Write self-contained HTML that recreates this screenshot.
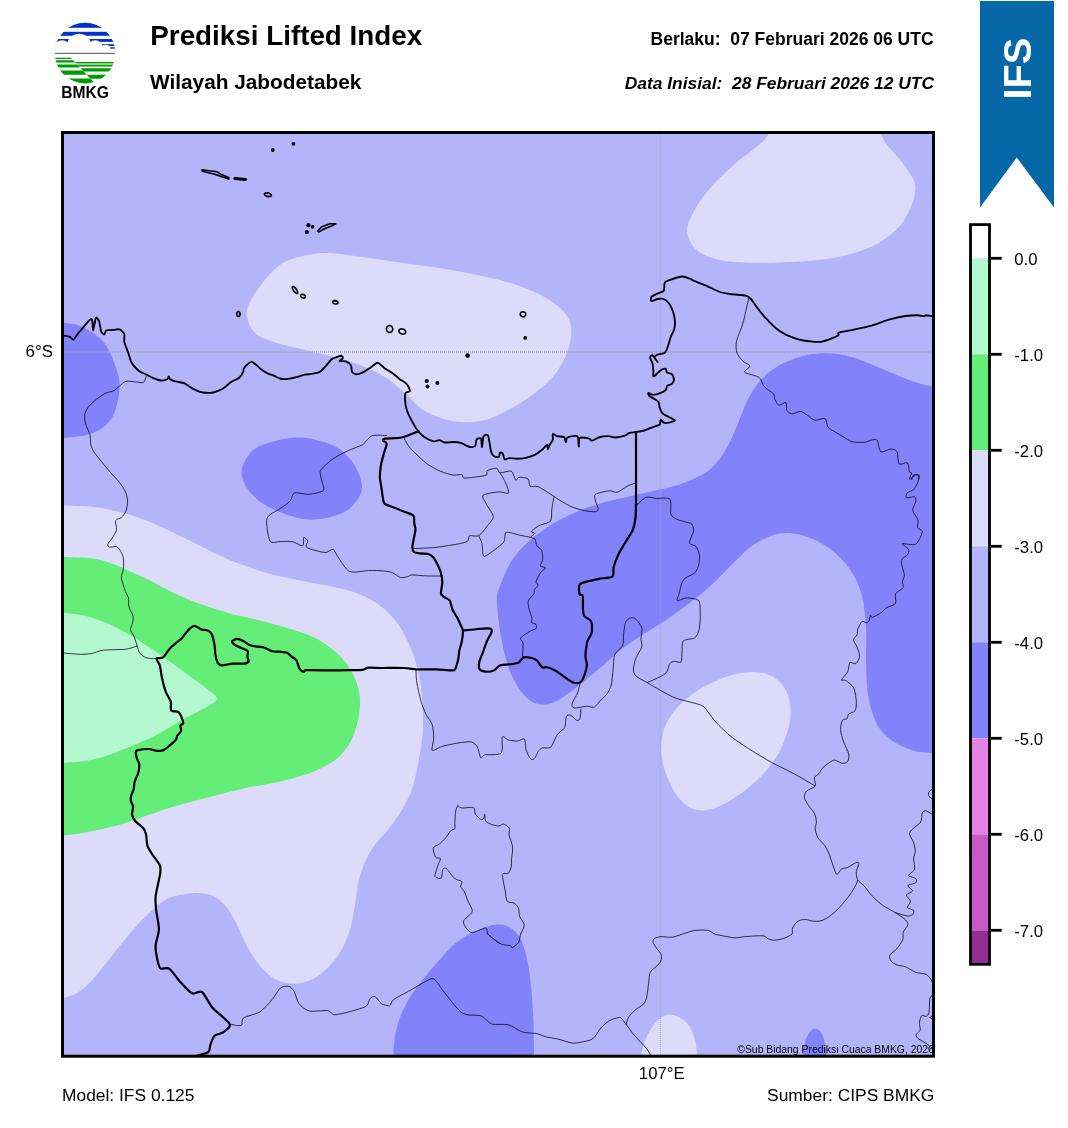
<!DOCTYPE html>
<html><head><meta charset="utf-8"><title>Prediksi Lifted Index</title>
<style>
html,body{margin:0;padding:0;background:#fff;}
body{width:1068px;height:1128px;overflow:hidden;position:relative;font-family:"Liberation Sans",sans-serif;}
svg{position:absolute;left:0;top:0;}
text{font-family:"Liberation Sans",sans-serif;fill:#000;}
</style></head><body>
<svg width="1068" height="1128" viewBox="0 0 1068 1128">
<defs><clipPath id="mapclip"><rect x="62.5" y="132.5" width="871" height="923.5"/></clipPath>
<clipPath id="logoclip"><circle cx="85.05" cy="53.1" r="30.3"/></clipPath></defs>
<!-- header text -->
<text x="150.3" y="45" font-size="27.8" font-weight="bold">Prediksi Lifted Index</text>
<text x="150" y="88.7" font-size="20.8" font-weight="bold">Wilayah Jabodetabek</text>
<text x="933.6" y="45.2" font-size="17.5" font-weight="bold" text-anchor="end" style="white-space:pre">Berlaku:  07 Februari 2026 06 UTC</text>
<text x="934" y="89" font-size="17.4" font-weight="bold" font-style="italic" text-anchor="end" style="white-space:pre">Data Inisial:  28 Februari 2026 12 UTC</text>
<!-- logo -->
<g id="logo">
<g clip-path="url(#logoclip)">
<g fill="#0033cc">
<rect x="50" y="20" width="70" height="7.8"/>
<rect x="50" y="31.8" width="70" height="4"/>
<rect x="50" y="39" width="70" height="2.9"/>
<rect x="50" y="44.2" width="70" height="1.8"/>
<rect x="50" y="47.2" width="70" height="1.6"/>
</g>
<g fill="#fff">
<circle cx="79.2" cy="45.9" r="12.2"/>
<circle cx="62.1" cy="47.7" r="7.5"/>
<circle cx="95.2" cy="47.7" r="7.4"/>
<circle cx="105.7" cy="49.5" r="4.8"/>
<rect x="50" y="48.8" width="70" height="8"/>
</g>
<rect x="50" y="42.3" width="9" height="7" fill="#fff"/>
<rect x="50" y="52.8" width="70" height="1.2" fill="#6e6e6e"/>
<g fill="#009900">
<path d="M50,57.7H70.7L72,59H50Z"/>
<path d="M50,60.3H73.2L75.1,62.4H50Z"/>
<path d="M50,64.4H77L79.9,67.5H50Z"/>
<path d="M50,70.4H82.7L86.7,74.7H50Z"/>
<path d="M50,78.6H90.4L96,84.5H50Z"/>
<path d="M74.7,61.9H120V63.1H75.8Z"/>
<path d="M77.3,64.7H120V66.6H79.1Z"/>
<path d="M80.7,68.3H120V71.6H83.8Z"/>
<path d="M86.7,74.7H120V78.8H90.6Z"/>
</g>
<path d="M75.8,63.1H120V64.7H77.3Z" fill="#8ccc8c"/>

</g>
<text x="85.2" y="97.8" font-size="15.6" font-weight="bold" text-anchor="middle">BMKG</text>
</g>
<!-- banner -->
<path d="M980,1 H1054 V207.5 L1016.7,157.5 L980,207.5 Z" fill="#0667a7"/>
<text transform="translate(1031.2,68.7) rotate(-90)" font-size="39.7" font-weight="bold" text-anchor="middle" style="fill:#fff">IFS</text>
<!-- map -->
<g clip-path="url(#mapclip)">
<rect x="61" y="131" width="874" height="927" fill="#b4b4fa"/>
<path d="M772.0,118.0C753.8,120.6 770.9,129.3 768.6,133.8C766.4,138.3 764.4,139.9 758.5,145.2C752.6,150.5 741.6,157.8 733.2,165.4C724.8,173.0 714.6,182.7 707.9,190.7C701.2,198.7 696.2,206.7 692.8,213.4C689.3,220.1 686.8,225.2 687.2,231.1C687.6,237.0 690.6,244.2 695.3,248.8C700.0,253.4 707.1,256.6 715.5,258.9C723.9,261.2 733.2,261.9 745.8,262.4C758.4,262.9 776.5,262.8 791.3,262.0C806.0,261.2 820.8,260.3 834.3,257.7C847.8,255.1 861.7,251.2 872.2,246.3C882.7,241.5 891.2,234.9 897.5,228.6C903.8,222.3 907.1,214.7 910.1,208.4C913.1,202.1 914.8,195.8 915.2,190.7C915.6,185.6 914.8,182.6 912.7,178.0C910.6,173.4 906.8,168.4 902.6,162.9C898.4,157.4 891.0,150.0 887.4,145.2C883.8,140.3 882.6,138.3 881.0,133.8C879.4,129.3 896.2,120.6 878.0,118.0C859.8,115.4 790.2,115.4 772.0,118.0Z" fill="#dcdcfa"/>
<path d="M246.8,311.4C247.5,304.2 252.7,296.6 258.0,289.0C263.3,281.4 271.7,271.3 278.5,266.0C285.3,260.7 290.8,259.2 299.0,257.0C307.2,254.8 316.3,252.8 328.0,253.0C339.7,253.2 355.2,256.2 369.0,258.0C382.8,259.8 396.7,262.0 410.5,264.0C424.3,266.0 437.6,267.5 451.7,270.0C465.8,272.5 483.7,276.3 495.0,279.0C506.3,281.7 511.5,283.0 519.7,286.0C528.0,289.0 537.3,292.8 544.5,297.0C551.7,301.2 558.5,305.8 563.0,311.0C567.5,316.2 570.6,321.1 571.3,328.0C572.0,334.9 570.1,344.5 567.0,352.7C563.9,360.9 559.2,369.4 552.7,377.0C546.2,384.6 537.6,391.4 528.0,398.0C518.4,404.6 504.3,412.6 495.0,416.6C485.7,420.6 479.9,421.4 472.0,422.0C464.1,422.6 455.8,422.0 447.6,420.0C439.4,418.0 429.9,414.3 423.0,410.0C416.1,405.7 412.9,399.8 406.0,394.0C399.1,388.2 391.2,380.5 381.6,375.0C372.0,369.5 361.0,365.1 348.6,361.0C336.2,356.9 319.4,353.8 307.0,350.6C294.6,347.4 282.8,345.1 274.0,342.0C265.2,338.9 258.5,337.1 254.0,332.0C249.5,326.9 246.1,318.6 246.8,311.4Z" fill="#dcdcfa"/>
<path d="M20.0,505.0C27.3,422.1 50.5,505.1 64.0,505.6C77.5,506.1 87.9,505.8 101.0,508.0C114.1,510.2 128.7,514.0 142.5,519.0C156.3,524.0 169.9,531.2 183.7,537.7C197.4,544.2 211.3,552.1 225.0,558.0C238.7,563.9 252.3,568.8 266.0,572.8C279.7,576.8 293.6,579.0 307.4,582.0C321.2,585.0 337.0,586.9 348.7,590.5C360.4,594.1 369.3,598.1 377.5,603.7C385.7,609.3 392.1,615.8 398.0,624.0C403.9,632.2 408.8,642.7 412.6,653.0C416.4,663.3 419.1,673.7 420.8,686.0C422.5,698.3 423.2,714.7 422.9,727.0C422.6,739.3 420.9,749.0 418.8,760.0C416.7,771.0 414.6,782.7 410.5,793.0C406.4,803.3 400.2,813.0 394.0,822.0C387.8,831.0 378.4,839.9 373.4,847.0C368.4,854.1 366.5,858.6 364.0,864.5C361.5,870.4 359.9,875.8 358.4,882.5C356.9,889.2 356.3,897.5 355.0,905.0C353.7,912.5 352.5,920.7 350.6,927.4C348.7,934.1 346.4,940.0 343.8,945.4C341.2,950.8 338.6,955.3 334.8,960.0C331.1,964.7 325.8,970.0 321.3,973.5C316.8,977.0 312.4,979.6 307.9,981.3C303.4,983.0 299.3,983.6 294.4,983.6C289.5,983.6 283.2,982.7 278.7,981.0C274.2,979.3 271.1,976.8 267.4,973.5C263.6,970.2 259.6,965.5 256.2,961.0C252.8,956.5 249.8,951.3 247.2,946.5C244.6,941.7 242.7,936.7 240.4,932.0C238.2,927.3 236.3,922.9 233.7,918.4C231.1,913.9 228.1,908.7 224.7,905.0C221.3,901.3 217.6,898.0 213.5,896.0C209.4,894.0 204.2,893.7 200.0,893.3C195.8,892.9 193.5,892.9 188.0,893.8C182.5,894.7 173.9,895.3 167.0,898.9C160.1,902.5 153.3,908.9 146.5,915.4C139.7,921.9 132.9,929.8 126.0,938.0C119.1,946.2 111.9,956.5 105.0,964.8C98.1,973.0 91.5,982.0 84.7,987.5C77.9,993.0 74.8,995.2 64.0,997.8C53.2,1000.4 27.3,1085.1 20.0,1003.0C12.7,920.9 12.7,587.9 20.0,505.0Z" fill="#dcdcfa"/>
<path d="M661.3,748.0C661.4,743.8 661.8,738.1 662.8,733.8C663.8,729.5 664.9,726.4 667.0,722.4C669.1,718.4 672.2,713.6 675.5,709.6C678.8,705.6 682.6,701.8 686.9,698.3C691.1,694.8 695.8,691.5 701.0,688.4C706.2,685.3 712.3,682.3 718.0,679.9C723.7,677.5 729.3,675.5 735.0,674.2C740.7,672.9 746.5,672.0 752.0,672.0C757.5,672.0 763.2,672.7 767.7,674.2C772.2,675.8 775.8,678.2 779.0,681.3C782.2,684.4 785.0,688.4 786.9,692.6C788.8,696.9 789.9,701.8 790.4,706.8C790.9,711.8 790.6,717.0 789.7,722.4C788.8,727.8 786.8,734.0 784.8,739.4C782.8,744.8 780.8,749.8 777.7,755.0C774.6,760.2 770.6,765.6 766.3,770.6C762.0,775.6 757.2,780.3 752.0,784.8C746.8,789.3 740.7,793.9 735.0,797.6C729.3,801.3 723.2,804.7 718.0,806.8C712.8,808.9 708.4,810.2 703.9,810.4C699.4,810.6 695.0,810.1 691.0,808.2C687.0,806.3 683.1,802.7 679.8,799.0C676.5,795.3 673.8,790.9 671.3,786.2C668.8,781.5 666.4,775.1 664.9,770.6C663.4,766.1 662.6,763.1 662.0,759.3C661.4,755.5 661.2,752.2 661.3,748.0Z" fill="#dcdcfa"/>
<path d="M640.0,1075.0C630.5,1071.7 639.8,1061.7 641.0,1055.0C642.2,1048.3 644.4,1041.0 647.5,1034.9C650.6,1028.8 655.7,1021.8 659.8,1018.4C663.9,1015.0 667.5,1014.0 672.0,1014.7C676.5,1015.4 682.8,1018.5 686.6,1022.5C690.4,1026.5 693.1,1033.5 694.8,1039.0C696.5,1044.5 696.5,1049.5 697.0,1055.5C697.5,1061.5 707.5,1071.8 698.0,1075.0C688.5,1078.2 649.5,1078.3 640.0,1075.0Z" fill="#dcdcfa"/>
<path d="M20.0,555.0C27.3,508.2 50.5,556.2 64.0,557.0C77.5,557.8 87.9,556.7 101.0,560.0C114.1,563.3 128.7,570.8 142.5,577.0C156.3,583.2 169.9,591.7 183.7,597.5C197.4,603.3 211.3,607.9 225.0,612.0C238.7,616.1 252.3,618.2 266.0,622.0C279.7,625.8 296.4,630.1 307.4,634.6C318.4,639.1 324.8,643.1 332.0,649.0C339.2,654.9 346.0,661.4 350.7,669.7C355.4,678.0 359.3,688.3 360.0,698.6C360.7,708.9 358.3,721.9 355.0,731.5C351.7,741.1 346.6,749.5 340.0,756.0C333.4,762.5 325.2,766.5 315.7,770.7C306.1,774.9 295.1,778.0 282.7,781.0C270.3,784.0 255.2,785.9 241.4,789.0C227.6,792.1 213.1,796.1 200.0,799.6C186.9,803.1 176.0,805.9 163.0,810.0C150.0,814.1 135.1,820.2 122.0,824.0C109.0,827.8 94.4,830.7 84.7,832.6C75.0,834.5 74.8,834.6 64.0,835.5C53.2,836.4 27.3,884.8 20.0,838.0C12.7,791.2 12.7,601.8 20.0,555.0Z" fill="#64ee78"/>
<path d="M20.0,611.0C27.3,585.6 51.8,611.6 64.0,612.8C76.2,614.0 83.3,615.0 93.0,618.0C102.7,621.0 111.7,625.0 122.0,630.5C132.3,636.0 144.7,644.1 155.0,651.0C165.3,657.9 174.8,665.3 183.7,671.8C192.6,678.3 203.0,685.5 208.5,690.0C214.0,694.5 216.7,695.9 216.7,698.6C216.7,701.3 214.0,702.6 208.5,706.0C203.0,709.4 192.6,714.0 183.7,719.0C174.8,724.0 165.3,730.5 155.0,735.7C144.7,740.9 132.3,746.0 122.0,750.0C111.7,754.0 102.7,757.4 93.0,759.6C83.3,761.8 76.2,762.1 64.0,763.0C51.8,763.9 27.3,790.3 20.0,765.0C12.7,739.7 12.7,636.4 20.0,611.0Z" fill="#b4f8d0"/>
<path d="M20.0,322.0C27.3,302.5 53.2,322.0 64.0,323.0C74.8,324.0 77.9,324.5 84.7,328.0C91.5,331.5 99.5,336.5 105.0,344.0C110.5,351.5 115.4,364.7 117.7,373.0C120.0,381.3 120.0,386.4 119.0,394.0C118.0,401.6 115.8,412.1 111.5,418.6C107.2,425.1 100.9,429.8 93.0,433.0C85.1,436.2 76.2,436.8 64.0,438.0C51.8,439.2 27.3,459.3 20.0,440.0C12.7,420.7 12.7,341.5 20.0,322.0Z" fill="#8282fa"/>
<path d="M241.4,472.0C241.6,466.7 244.6,460.5 248.0,456.0C251.4,451.5 254.2,448.1 262.0,445.0C269.8,441.9 285.3,438.3 295.0,437.6C304.7,436.9 312.5,439.0 320.0,441.0C327.5,443.0 334.2,445.4 340.0,449.6C345.8,453.8 351.3,459.8 355.0,466.0C358.7,472.2 362.0,480.5 362.0,486.7C362.0,492.9 358.7,498.4 355.0,503.0C351.3,507.6 347.2,511.2 340.0,514.0C332.8,516.8 320.7,519.7 311.5,519.7C302.3,519.7 293.2,516.8 285.0,514.0C276.8,511.2 268.3,507.3 262.0,503.0C255.7,498.7 250.4,493.2 247.0,488.0C243.6,482.8 241.2,477.3 241.4,472.0Z" fill="#8282fa"/>
<path d="M980.0,395.0C972.0,333.8 944.1,389.1 932.0,386.5C919.9,383.9 915.6,382.4 907.4,379.5C899.2,376.6 890.9,372.4 882.6,369.0C874.4,365.6 866.2,361.5 857.9,358.9C849.6,356.3 841.2,354.2 833.0,353.5C824.8,352.8 816.6,353.1 808.4,354.7C800.2,356.3 791.3,359.2 783.7,363.0C776.1,366.8 768.9,371.6 763.0,377.4C757.1,383.2 752.7,390.4 748.6,398.0C744.5,405.6 742.1,414.2 738.3,422.8C734.5,431.4 730.7,441.7 725.9,449.6C721.1,457.5 716.3,464.5 709.4,470.0C702.5,475.5 692.9,479.3 684.7,482.6C676.5,485.9 669.0,487.4 660.0,489.6C651.0,491.8 640.7,493.8 631.0,496.0C621.3,498.2 610.9,500.4 602.0,503.0C593.1,505.6 585.7,507.9 577.5,511.4C569.3,514.9 561.0,518.7 552.7,523.8C544.5,528.9 534.9,535.8 528.0,542.0C521.1,548.2 516.0,554.1 511.5,561.0C507.0,567.9 503.4,577.2 501.0,583.6C498.6,590.0 497.0,590.8 497.0,599.6C497.0,608.5 498.9,625.0 501.0,636.7C503.1,648.4 505.9,660.4 509.4,669.7C512.9,679.0 517.4,686.8 521.8,692.4C526.2,698.0 530.9,701.8 536.0,703.5C541.1,705.2 546.5,705.0 552.7,702.7C558.9,700.5 565.5,695.5 573.0,690.0C580.5,684.5 589.0,677.2 598.0,669.7C607.0,662.2 616.7,652.6 627.0,645.0C637.3,637.4 649.7,630.9 660.0,624.0C670.3,617.1 679.9,610.5 688.8,603.7C697.7,596.9 706.1,589.9 713.6,583.0C721.1,576.1 727.1,569.0 734.0,562.5C740.9,556.0 747.2,548.8 754.8,544.0C762.4,539.2 771.3,535.0 779.5,533.6C787.7,532.2 795.8,533.3 804.0,535.7C812.2,538.1 821.4,542.5 829.0,548.0C836.6,553.5 844.1,560.8 849.6,568.7C855.1,576.6 859.3,585.5 862.0,595.5C864.7,605.5 865.3,617.5 866.0,628.5C866.7,639.5 865.7,650.4 866.0,661.4C866.3,672.4 866.3,684.1 868.0,694.4C869.7,704.7 872.6,715.4 876.4,723.0C880.2,730.6 885.1,735.3 891.0,739.8C896.9,744.3 904.7,747.8 911.5,750.0C918.3,752.2 920.6,752.3 932.0,753.0C943.4,753.7 972.0,813.7 980.0,754.0C988.0,694.3 988.0,456.2 980.0,395.0Z" fill="#8282fa"/>
<path d="M392.0,1075.0C368.5,1071.7 392.7,1062.1 393.2,1055.4C393.7,1048.7 393.9,1041.7 395.2,1035.0C396.5,1028.3 398.6,1021.2 401.0,1015.0C403.4,1008.8 406.1,1003.6 409.5,998.0C412.9,992.4 416.9,986.8 421.3,981.2C425.7,975.6 430.7,969.9 435.6,964.3C440.5,958.7 445.5,952.4 450.8,947.5C456.1,942.6 462.6,937.9 467.7,934.8C472.8,931.7 477.3,930.5 481.2,928.9C485.1,927.3 488.5,926.0 491.3,925.2C494.1,924.5 495.8,924.4 498.0,924.4C500.2,924.4 502.3,924.3 504.8,925.2C507.3,926.1 510.5,927.4 513.2,929.7C515.9,932.0 518.7,934.9 520.8,939.0C522.9,943.1 524.5,948.9 525.9,954.2C527.3,959.5 528.2,964.2 529.2,971.0C530.2,977.8 531.1,986.0 531.8,994.7C532.5,1003.4 533.1,1013.2 533.5,1023.3C533.9,1033.4 533.9,1046.8 534.0,1055.4C534.1,1064.0 557.9,1071.7 534.2,1075.0C510.5,1078.3 415.5,1078.3 392.0,1075.0Z" fill="#8282fa"/>
<path d="M802.0,1075.0C797.9,1071.7 802.3,1061.0 803.0,1055.0C803.7,1049.0 804.2,1043.4 806.0,1039.0C807.8,1034.6 811.2,1029.4 814.0,1028.7C816.8,1028.0 820.5,1030.4 822.6,1034.9C824.7,1039.4 825.9,1048.8 826.7,1055.5C827.5,1062.2 831.6,1071.8 827.5,1075.0C823.4,1078.2 806.1,1078.3 802.0,1075.0Z" fill="#8282fa"/>

<g stroke="#a3a2b6" stroke-dasharray="1,1" fill="none"><path d="M62,352H934" stroke-width="1.4"/><path d="M660.3,132V1056" stroke-width="0.9"/></g>
<g fill="none" stroke="#0a0a14" stroke-width="0.8" stroke-linejoin="round">
<path d="M146.5,375.8C146.1,376.7 144.8,381.6 143.4,382.4C142.0,383.2 138.5,382.1 136.2,382.0C133.9,381.9 128.1,380.8 125.9,381.3C123.7,381.8 121.3,384.7 119.7,386.0C118.1,387.3 115.5,389.8 113.6,390.8C111.7,391.8 107.8,392.0 105.3,393.3C102.8,394.6 97.3,398.6 95.0,400.5C92.7,402.4 89.2,405.8 87.8,407.7C86.4,409.6 85.0,412.7 84.7,414.9C84.4,417.1 85.0,421.6 85.7,424.2C86.4,426.8 89.2,431.8 89.9,434.5C90.6,437.2 90.4,442.5 90.9,444.8C91.4,447.1 92.6,449.8 94.0,452.0C95.4,454.2 98.9,458.4 101.2,461.3C103.5,464.2 109.3,471.1 111.5,473.6C113.7,476.1 115.9,478.0 117.7,480.3C119.5,482.6 123.6,487.9 124.9,490.6C126.2,493.3 127.5,498.2 127.6,500.9C127.7,503.6 126.7,509.0 125.9,511.2C125.1,513.4 122.8,516.2 121.4,517.4C120.0,518.6 116.2,518.9 115.6,520.5C115.0,522.1 117.1,527.2 116.6,529.7C116.1,532.2 112.7,537.1 111.5,539.0C110.3,540.9 108.1,543.1 107.8,544.2C107.5,545.3 108.2,546.9 109.4,547.2C110.6,547.5 115.1,546.0 116.6,546.6C118.1,547.2 119.9,549.8 120.8,551.4C121.7,553.0 123.1,556.3 123.4,558.6C123.7,560.9 123.7,566.3 123.4,568.9C123.1,571.5 121.1,575.0 121.4,578.0C121.7,581.0 124.6,588.9 125.5,591.5C126.4,594.1 127.9,595.6 128.4,597.7C128.9,599.8 128.4,604.5 129.0,607.0C129.6,609.5 132.7,613.9 133.1,616.2C133.5,618.5 132.5,622.7 132.1,624.5C131.7,626.3 130.1,628.0 130.4,629.6C130.7,631.2 133.3,634.6 134.2,636.8C135.1,639.0 136.5,643.9 137.2,646.0C137.9,648.1 138.3,650.8 139.3,652.3C140.3,653.8 142.9,656.2 144.4,657.0C145.9,657.8 149.0,658.3 150.6,658.5C152.2,658.7 155.6,658.5 156.4,658.5"/>
<path d="M137.2,646.0C135.7,646.4 130.4,648.6 125.9,649.2C121.4,649.8 108.0,649.6 103.3,650.2C98.6,650.8 93.9,653.2 90.9,653.7C87.9,654.2 84.5,654.4 80.6,654.3C76.7,654.2 64.5,653.1 62.0,652.9"/>
<path d="M387.0,435.5C385.1,435.5 375.4,434.8 372.7,435.5C370.0,436.2 367.9,439.5 366.5,440.7C365.1,441.9 364.6,443.6 362.4,444.8C360.2,446.0 353.3,448.4 350.0,449.9C346.7,451.4 340.7,454.2 337.7,456.0C334.7,457.8 329.7,461.2 327.4,463.3C325.1,465.4 320.9,469.0 320.2,471.5C319.5,474.0 321.8,479.9 322.2,482.4C322.6,484.9 325.1,489.0 323.3,490.6C321.5,492.2 312.7,494.0 308.8,494.3C304.9,494.6 296.9,492.1 294.4,493.0C291.9,493.9 292.2,498.8 290.3,500.9C288.4,503.0 283.1,506.4 280.0,508.7C276.9,511.0 268.3,514.1 267.0,518.4C265.7,522.7 268.3,537.9 270.0,541.0C271.7,544.1 277.0,541.4 280.0,541.5C283.0,541.6 289.4,541.1 292.4,541.7C295.4,542.3 301.2,546.3 302.7,545.8C304.2,545.3 303.0,538.2 303.7,537.6C304.4,537.0 307.4,539.7 307.8,541.0C308.2,542.3 304.9,545.8 306.4,547.2C307.9,548.6 316.4,550.7 319.1,551.4C321.8,552.1 324.4,552.7 326.3,552.4C328.2,552.1 331.6,548.8 333.1,549.3C334.6,549.8 335.5,553.5 337.7,556.5C339.9,559.5 345.5,569.6 349.6,571.5C353.7,573.4 364.1,570.6 368.6,570.5C373.1,570.4 379.8,570.6 383.0,570.9C386.2,571.2 390.0,571.7 392.3,572.6C394.6,573.5 398.4,577.0 400.5,577.5C402.6,578.0 406.2,577.0 407.7,576.7C409.2,576.4 409.1,575.1 411.8,575.0C414.5,574.9 424.4,575.9 428.3,576.0C432.2,576.1 439.3,576.0 441.0,576.0"/>
<path d="M403.6,437.0C404.1,438.0 406.4,442.9 407.7,444.8C409.0,446.7 410.9,449.0 413.5,451.5C416.1,454.0 423.4,461.2 427.0,463.8C430.6,466.4 437.0,469.7 440.4,471.2C443.8,472.7 449.9,474.5 452.8,475.0C455.7,475.5 460.3,474.2 461.8,474.6C463.3,475.0 462.1,477.7 464.0,478.0C465.9,478.3 473.4,477.3 476.4,476.9C479.4,476.5 485.1,475.8 486.5,475.0C487.9,474.2 485.9,471.5 487.2,470.6C488.5,469.7 494.9,468.0 496.6,468.3C498.3,468.6 498.1,472.4 500.0,472.8C501.9,473.2 509.1,470.2 511.2,471.2C513.3,472.2 514.7,479.4 515.7,480.2C516.7,481.0 517.4,477.5 519.0,477.3C520.6,477.1 526.5,477.7 528.0,478.9C529.5,480.1 528.9,485.3 530.3,486.3C531.7,487.3 535.0,485.4 538.2,486.7C541.4,488.0 551.5,494.8 554.0,496.4C556.5,498.0 555.1,497.4 557.3,498.7C559.5,500.0 567.2,504.9 570.8,506.5C574.4,508.1 581.0,509.9 584.3,510.6C587.6,511.3 593.6,511.9 595.5,511.7C597.4,511.5 598.2,510.2 598.2,508.8C598.2,507.4 595.9,502.8 595.5,500.9C595.1,499.0 593.6,495.5 595.5,494.2C597.4,492.9 607.1,491.0 610.0,490.8C612.9,490.6 614.6,493.0 616.9,492.4C619.2,491.8 624.5,487.6 627.0,486.3C629.5,485.0 634.8,483.4 636.0,483.0"/>
<path d="M500.0,472.8C500.7,474.1 504.5,480.2 505.6,482.9C506.7,485.6 509.4,491.8 508.5,493.0C507.6,494.2 502.3,491.6 498.9,491.9C495.5,492.2 484.8,493.6 483.1,495.3C481.4,497.0 485.1,501.5 486.5,504.3C487.9,507.1 493.2,513.8 493.3,516.6C493.4,519.4 489.5,523.1 487.6,525.6C485.7,528.1 481.1,534.4 478.7,535.7C476.3,537.0 471.2,535.0 469.7,535.7C468.2,536.4 469.2,540.2 467.4,541.3C465.6,542.4 460.7,543.5 456.2,544.3C451.7,545.1 439.4,547.0 433.7,547.6C428.0,548.2 416.2,548.4 413.5,548.5"/>
<path d="M478.7,535.7C479.1,536.8 481.4,541.1 482.0,543.6C482.6,546.1 482.5,553.2 483.1,554.8C483.7,556.4 483.8,557.1 486.5,555.5C489.2,553.9 500.8,545.6 503.4,542.5C506.0,539.4 503.9,533.4 506.0,532.4C508.1,531.4 515.9,534.3 519.1,535.0C522.3,535.7 528.8,537.0 530.3,537.3"/>
<path d="M554.0,496.4C553.7,498.2 552.2,506.6 551.7,509.9C551.2,513.2 552.3,518.9 550.6,521.0C548.9,523.1 541.8,524.2 539.3,525.6C536.8,527.0 532.1,530.1 531.5,531.2C530.9,532.3 535.0,532.7 534.8,533.5C534.6,534.3 530.3,536.6 530.3,537.3C530.3,538.0 533.9,537.9 534.8,539.0C535.7,540.1 536.1,544.3 537.0,545.8C537.9,547.3 540.8,548.5 541.6,550.3C542.4,552.1 542.9,557.2 542.7,559.3C542.5,561.4 540.0,564.9 540.4,566.0C540.8,567.1 545.6,567.0 545.6,567.9C545.6,568.8 541.7,570.9 540.4,572.8C539.1,574.7 536.3,580.2 536.0,581.8C535.7,583.4 538.4,583.9 538.2,585.0C538.0,586.1 535.0,588.6 534.4,589.7C533.8,590.8 534.8,592.1 534.0,593.6C533.2,595.1 529.1,598.9 528.4,600.8C527.7,602.7 528.3,605.7 528.8,608.0C529.3,610.3 531.6,616.4 531.9,618.3C532.2,620.2 530.8,621.6 531.3,622.4C531.8,623.2 535.4,623.7 536.0,624.5C536.6,625.3 536.7,627.8 536.0,628.6C535.3,629.4 533.0,629.5 530.9,630.7C528.8,631.9 521.7,636.3 520.6,637.9C519.5,639.5 522.8,640.4 523.0,643.0C523.2,645.6 522.5,655.5 522.4,657.4"/>
<path d="M636.0,505.0C636.3,504.9 636.6,505.0 638.0,504.0C639.4,503.0 643.7,497.9 646.2,497.2C648.7,496.5 653.3,498.1 656.5,498.4C659.7,498.7 668.0,497.1 669.9,499.2C671.8,501.3 670.0,511.6 671.0,514.3C672.0,517.0 675.2,518.4 677.1,519.4C679.0,520.4 683.5,521.3 685.4,521.9C687.3,522.5 690.5,522.8 691.6,524.0C692.7,525.2 693.9,528.3 693.6,530.8C693.3,533.3 689.2,540.9 689.5,543.0C689.8,545.1 694.4,544.7 695.7,546.2C697.0,547.7 699.0,551.9 699.4,554.4C699.8,556.9 699.4,562.2 698.8,564.7C698.2,567.2 696.4,571.2 694.6,573.0C692.8,574.8 687.2,576.5 685.4,578.0C683.6,579.5 682.1,582.2 681.3,584.3C680.5,586.4 679.8,591.4 679.2,593.6C678.6,595.8 676.3,600.2 677.1,600.8C677.9,601.4 683.2,598.3 685.4,598.0C687.6,597.7 691.7,598.2 693.6,598.7C695.5,599.2 698.5,599.2 699.4,601.8C700.3,604.4 700.3,614.4 700.2,618.3C700.1,622.2 699.5,628.1 698.8,630.7C698.1,633.3 696.7,636.5 694.6,637.9C692.5,639.3 685.0,639.1 683.3,641.0C681.6,642.9 682.3,649.2 682.0,652.0C681.7,654.8 682.0,660.8 681.0,662.0C680.0,663.2 675.8,661.1 674.3,661.3C672.8,661.5 671.0,661.9 669.8,663.6C668.6,665.3 668.3,671.2 665.3,673.7C662.3,676.2 649.7,681.5 647.3,682.7"/>
<path d="M580.7,682.0C580.6,682.2 580.3,682.4 579.9,683.8C579.5,685.2 578.7,690.1 577.6,692.8C576.5,695.5 572.4,702.0 572.0,704.0C571.6,706.0 572.4,707.7 574.3,708.0C576.2,708.3 583.9,706.4 586.6,706.3C589.3,706.2 592.6,707.9 594.5,707.0C596.4,706.1 599.5,701.3 601.2,699.6C602.9,697.9 605.6,695.9 606.9,694.0C608.2,692.1 610.5,688.3 611.3,685.0C612.1,681.7 612.6,673.3 613.1,669.2C613.6,665.1 613.4,657.7 614.7,654.6C616.0,651.5 621.4,648.2 622.6,645.6C623.8,643.0 623.3,637.8 623.6,634.8C623.9,631.8 624.5,625.5 625.2,623.4C625.9,621.3 627.5,619.4 628.7,618.7C629.9,618.0 632.7,617.5 633.9,617.9C635.1,618.3 636.9,620.0 638.0,621.4C639.1,622.8 641.6,626.3 642.0,628.6C642.4,630.9 641.0,636.4 641.0,638.9C641.0,641.4 642.4,644.5 641.7,647.0C641.0,649.5 637.1,655.0 636.0,658.0C634.9,661.0 633.4,666.8 633.4,669.2C633.4,671.6 634.1,674.2 636.0,676.0C637.9,677.8 644.0,680.8 647.3,682.7C650.6,684.6 656.9,688.5 660.8,690.6C664.7,692.7 671.1,696.5 676.5,698.4C681.9,700.3 697.0,703.4 701.2,705.2C705.4,707.0 706.2,709.8 708.0,711.9C709.8,714.0 712.6,718.5 714.7,720.9C716.8,723.3 721.3,727.7 723.7,729.9C726.1,732.1 728.8,735.0 732.4,737.7C736.0,740.4 745.7,746.7 750.9,750.0C756.1,753.3 766.0,759.4 771.5,762.4C777.0,765.4 786.2,769.6 792.0,772.7C797.8,775.8 812.1,784.2 815.2,786.0"/>
<path d="M415.9,669.4C416.0,671.1 416.1,678.2 416.8,682.4C417.5,686.6 419.7,696.6 420.9,700.9C422.1,705.2 424.5,711.1 426.0,714.3C427.5,717.5 431.2,721.4 432.2,724.6C433.2,727.8 433.7,734.6 433.7,738.0C433.7,741.4 431.2,749.2 432.2,750.3C433.2,751.4 438.1,747.6 441.5,746.6C444.9,745.6 454.0,743.6 458.0,743.0C462.0,742.4 468.8,741.4 471.4,742.0C474.0,742.6 476.3,745.1 477.5,747.2C478.7,749.3 479.6,756.5 480.6,757.5C481.6,758.5 482.0,755.5 484.7,754.9C487.4,754.3 498.9,755.4 501.2,753.0C503.5,750.6 501.3,738.7 502.3,737.0C503.3,735.3 506.3,739.5 508.4,740.0C510.5,740.5 515.6,741.1 517.7,741.0C519.8,740.9 523.2,737.9 524.3,739.0C525.4,740.1 525.4,747.0 526.0,749.3C526.6,751.6 528.2,755.1 529.0,756.5C529.8,757.9 531.2,759.5 532.0,759.6C532.8,759.7 534.4,758.6 535.2,757.5C536.0,756.4 537.3,752.7 538.3,751.4C539.3,750.1 540.7,748.5 542.4,747.9C544.1,747.3 548.7,749.0 550.7,747.2C552.7,745.4 555.5,737.0 557.4,734.4C559.3,731.8 563.4,730.0 564.6,727.6C565.8,725.2 565.6,718.0 566.4,716.4C567.2,714.8 569.6,714.8 570.9,715.3C572.2,715.8 575.3,719.9 576.5,720.4C577.7,720.9 579.3,720.3 579.9,718.7C580.5,717.1 580.9,709.9 581.0,708.5"/>
<path d="M457.6,805.5C458.2,805.8 459.9,807.7 462.0,808.0C464.1,808.3 471.6,806.8 473.4,807.6C475.2,808.4 474.5,812.6 475.5,814.2C476.5,815.8 479.5,818.8 480.6,819.3C481.7,819.8 483.2,819.0 483.7,818.3C484.2,817.6 484.4,813.8 484.7,814.2C485.0,814.6 484.7,820.0 485.8,821.4C486.9,822.8 491.2,824.3 493.0,824.9C494.8,825.5 497.8,826.1 499.2,826.0C500.6,825.9 501.9,823.7 503.3,824.0C504.7,824.3 508.7,826.8 509.5,828.2C510.3,829.6 508.6,832.3 509.0,834.8C509.4,837.3 512.3,843.7 512.6,847.0C512.9,850.3 511.7,857.0 511.5,859.5C511.3,862.0 511.8,864.1 511.4,866.0C511.0,867.9 509.5,872.3 508.3,873.4C507.1,874.5 502.9,872.1 502.5,874.4C502.1,876.7 504.6,887.3 505.2,890.9C505.8,894.5 506.0,899.5 507.2,901.2C508.4,902.9 512.9,902.3 514.4,903.3C515.9,904.3 517.9,906.6 518.6,908.4C519.3,910.2 518.8,914.4 519.6,916.6C520.4,918.8 524.2,922.6 524.3,924.9C524.4,927.2 521.4,931.7 520.6,934.0C519.8,936.3 519.7,940.6 518.6,942.4C517.5,944.2 513.5,947.1 512.4,947.5C511.3,947.9 511.7,945.9 510.3,945.5C508.9,945.1 504.2,945.2 502.0,944.4C499.8,943.6 495.8,940.7 493.9,939.3C492.0,937.9 488.8,935.5 487.7,934.0C486.6,932.5 487.8,928.2 485.6,928.0C483.4,927.8 474.2,933.3 471.2,932.5C468.2,931.7 463.3,924.6 463.4,921.8C463.5,919.0 471.6,914.2 472.2,911.5C472.8,908.8 469.1,903.9 468.0,901.2C466.9,898.5 465.0,892.8 464.0,890.9C463.0,889.0 460.8,888.0 460.5,886.8C460.2,885.6 462.7,882.7 461.9,881.6C461.1,880.5 456.8,880.2 454.7,878.5C452.6,876.8 448.1,869.9 446.5,868.7C444.9,867.5 443.5,868.1 442.8,869.3C442.1,870.5 442.3,877.0 441.3,878.0C440.3,879.0 435.6,878.1 435.1,876.5C434.6,874.9 437.1,868.1 437.8,865.7C438.5,863.3 440.8,859.6 440.5,858.5C440.2,857.4 436.7,858.8 435.7,857.4C434.7,856.0 432.8,849.8 433.3,848.0C433.8,846.2 437.8,845.3 439.4,844.0C441.0,842.7 444.1,839.7 445.6,837.9C447.1,836.1 449.6,831.9 450.8,830.7C452.0,829.5 454.4,829.6 454.9,828.6C455.4,827.6 454.8,825.6 454.9,823.4C455.0,821.2 455.1,814.4 455.5,812.0C455.9,809.6 457.3,806.4 457.6,805.5"/>
<path d="M487.7,934.0 L500.0,943.9"/>
<path d="M229.8,1024.2C231.3,1024.4 239.5,1026.2 241.3,1025.4C243.1,1024.6 240.9,1019.8 243.4,1018.0C245.9,1016.2 256.0,1014.3 259.8,1011.8C263.6,1009.3 269.5,1002.7 272.2,999.5C274.9,996.3 278.2,989.8 280.4,988.0C282.6,986.2 286.9,985.9 288.7,986.3C290.5,986.7 292.6,988.9 294.0,991.2C295.4,993.5 297.0,1001.0 299.0,1003.6C301.0,1006.2 305.5,1010.1 309.3,1011.0C313.1,1011.9 324.2,1010.1 327.8,1010.6C331.4,1011.1 331.1,1015.2 336.0,1014.7C340.9,1014.2 360.4,1009.0 364.9,1006.9C369.4,1004.8 368.4,1000.1 369.8,998.7C371.2,997.3 373.7,995.9 375.2,996.6C376.7,997.3 379.5,1002.4 381.4,1003.6C383.3,1004.8 388.0,1006.2 389.6,1005.7C391.2,1005.2 391.0,1001.5 393.7,999.5C396.4,997.5 405.3,993.1 410.2,990.4C415.1,987.7 427.2,980.0 430.8,978.9C434.4,977.8 435.5,980.7 437.0,982.2C438.5,983.7 440.3,987.0 442.4,989.8C444.5,992.6 450.2,1000.0 452.7,1003.0C455.2,1006.0 458.9,1010.4 460.9,1012.0C462.9,1013.6 465.3,1014.4 468.0,1014.9C470.7,1015.4 478.3,1014.8 481.5,1016.0C484.7,1017.2 488.2,1022.8 491.8,1024.0C495.4,1025.2 504.2,1023.7 508.3,1024.8C512.4,1025.9 518.9,1030.8 522.7,1032.0C526.5,1033.2 534.0,1033.0 537.0,1033.6C540.0,1034.2 542.5,1036.0 545.3,1036.7C548.1,1037.4 554.1,1038.2 557.7,1039.0C561.3,1039.8 569.0,1042.6 572.0,1043.0C575.0,1043.4 577.6,1042.9 580.4,1042.3C583.2,1041.7 590.0,1040.7 592.7,1038.8C595.4,1036.9 598.8,1030.3 601.0,1027.9C603.2,1025.5 606.9,1022.1 609.2,1020.7C611.5,1019.3 616.8,1017.9 618.5,1017.6C620.2,1017.3 620.6,1017.8 621.6,1018.6C622.6,1019.4 624.0,1021.5 625.7,1023.7C627.4,1025.9 631.3,1031.7 634.1,1035.0C636.9,1038.3 644.2,1045.7 646.5,1048.5C648.8,1051.3 650.4,1055.0 651.0,1056.0"/>
<path d="M625.9,1024.8C626.3,1023.7 627.6,1018.6 629.0,1016.5C630.4,1014.4 634.3,1010.9 636.2,1009.3C638.1,1007.7 642.0,1005.7 643.4,1004.2C644.8,1002.7 645.8,1000.7 646.5,998.0C647.2,995.3 648.1,987.0 648.6,983.6C649.1,980.2 649.1,974.6 650.2,972.3C651.3,970.0 655.4,967.5 656.8,966.0C658.2,964.5 660.3,962.5 660.9,961.0C661.5,959.5 661.8,956.4 661.3,954.7C660.8,953.0 657.9,950.2 656.8,948.6C655.7,947.0 653.4,943.7 653.1,942.4C652.8,941.1 653.3,939.5 654.3,938.7C655.3,937.9 658.5,936.8 660.9,936.6C663.3,936.4 669.3,937.6 672.3,937.2C675.3,936.8 680.6,934.6 683.6,933.7C686.6,932.8 691.6,930.8 694.9,930.4C698.2,930.0 705.7,929.9 708.3,930.4C710.9,930.9 712.3,933.2 714.5,934.0C716.7,934.8 722.1,935.7 724.8,936.2C727.5,936.7 732.3,937.8 735.0,937.9C737.7,938.0 741.7,936.9 745.4,936.6C749.1,936.3 759.9,935.5 762.9,935.8C765.9,936.1 766.5,938.1 768.0,938.7C769.5,939.3 772.1,940.4 774.2,940.3C776.3,940.2 781.5,939.1 783.9,938.3C786.3,937.5 790.9,935.4 792.0,934.0C793.1,932.6 791.8,929.6 792.5,928.0C793.2,926.4 795.6,923.0 797.2,921.8C798.8,920.6 802.3,919.4 804.4,919.3C806.5,919.2 810.5,921.0 812.7,921.2C814.9,921.4 818.7,921.4 820.9,920.8C823.1,920.2 826.7,918.4 829.2,916.6C831.7,914.8 836.8,910.3 839.5,907.4C842.2,904.5 847.6,898.0 849.8,895.0C852.0,892.0 855.0,886.7 856.0,884.7C857.0,882.7 857.4,880.6 857.6,880.0"/>
<path d="M748.8,298.0C748.4,299.8 746.5,308.0 745.7,311.5C744.9,315.0 743.9,319.9 742.7,323.9C741.5,327.9 737.3,337.6 736.5,341.4C735.7,345.2 736.1,350.1 736.9,352.7C737.7,355.3 741.0,359.1 742.7,360.9C744.4,362.7 749.6,364.5 749.9,366.0C750.2,367.5 743.5,370.8 744.7,372.3C745.9,373.8 756.4,375.5 759.0,377.4C761.6,379.3 762.4,384.5 764.3,386.7C766.2,388.9 772.2,392.3 773.6,393.9C775.0,395.5 773.9,396.9 774.6,398.4C775.3,399.9 777.2,404.7 778.7,405.2C780.2,405.7 784.8,401.8 785.9,402.5C787.0,403.2 786.1,408.9 786.9,410.4C787.7,411.9 790.2,413.9 792.0,414.0C793.8,414.1 798.4,411.3 800.3,411.4C802.2,411.5 804.6,413.3 806.5,414.5C808.4,415.7 812.2,419.7 814.7,420.2C817.2,420.7 823.2,417.7 825.0,418.6C826.8,419.5 826.6,425.4 828.0,427.2C829.4,429.0 833.2,430.7 835.3,432.0C837.4,433.3 841.4,435.7 843.6,437.0C845.8,438.3 849.1,441.0 851.8,441.7C854.5,442.4 860.9,442.6 864.2,442.3C867.5,442.0 874.3,438.4 876.5,439.6C878.7,440.8 878.8,450.3 880.7,451.6C882.6,452.9 888.8,449.0 891.0,449.0C893.2,449.0 895.9,449.6 897.0,451.6C898.1,453.6 897.8,462.4 899.2,463.9C900.6,465.4 906.0,461.8 907.4,462.9C908.8,464.0 908.9,470.7 909.5,472.0C910.1,473.3 911.6,472.0 911.6,473.0C911.6,474.0 909.0,479.0 909.5,479.3C910.0,479.6 914.5,475.4 915.7,475.0C916.9,474.6 918.5,475.2 918.8,476.2C919.1,477.2 918.4,480.6 917.7,482.4C917.0,484.2 915.0,488.2 913.6,489.6C912.2,491.0 908.4,491.6 907.4,492.7C906.4,493.8 905.4,497.3 906.4,497.8C907.4,498.3 913.4,496.3 914.6,496.8C915.8,497.3 916.0,500.1 915.7,501.9C915.4,503.7 912.3,507.9 912.6,510.2C912.9,512.5 917.0,517.1 917.7,519.4C918.4,521.7 917.1,526.0 917.7,527.7C918.3,529.4 922.6,529.6 922.3,531.8C922.0,534.0 918.4,542.6 915.7,544.2C913.0,545.8 903.3,543.0 902.3,543.7C901.3,544.4 907.8,547.9 908.5,549.3C909.2,550.7 908.8,552.9 907.8,554.4C906.8,555.9 901.8,557.9 901.3,560.6C900.8,563.3 904.2,572.1 904.3,575.0C904.4,577.9 902.4,580.6 902.3,582.3C902.2,584.0 904.2,585.8 903.3,587.4C902.4,589.0 896.5,591.9 895.5,594.0C894.5,596.1 896.7,601.7 895.5,603.5C894.3,605.3 888.8,606.3 886.8,607.6C884.8,608.9 882.6,611.7 880.7,613.0C878.8,614.3 873.8,617.0 872.4,617.3C871.0,617.6 870.8,614.8 870.4,615.2C870.0,615.6 869.9,619.4 869.3,620.4C868.7,621.4 867.2,622.7 866.2,622.8C865.2,622.9 863.2,620.6 862.1,621.4C861.0,622.2 858.7,626.8 858.0,628.6C857.3,630.4 857.6,633.3 857.0,634.8C856.4,636.3 853.5,638.3 853.5,639.9C853.5,641.5 856.2,644.8 857.0,647.0C857.8,649.2 859.7,654.2 859.6,656.4C859.5,658.6 857.2,662.8 855.9,663.6C854.6,664.4 850.9,661.5 849.8,662.6C848.7,663.7 848.8,669.5 847.7,671.8C846.6,674.1 841.8,678.8 841.5,680.0C841.2,681.2 843.9,679.4 845.6,680.5C847.3,681.6 852.5,685.2 853.9,688.2C855.3,691.2 856.3,699.7 856.4,702.7C856.5,705.7 855.9,709.4 854.9,710.9C853.9,712.4 849.8,712.9 848.7,714.0C847.6,715.1 847.5,718.2 846.7,719.0C845.9,719.8 843.4,718.6 842.6,720.0C841.8,721.4 840.4,726.5 840.5,729.4C840.6,732.3 842.5,738.5 843.6,741.8C844.7,745.1 848.2,751.4 848.7,754.0C849.2,756.6 848.5,760.1 847.7,761.4C846.9,762.7 844.1,763.5 842.6,763.4C841.1,763.3 837.8,761.1 836.4,760.7C835.0,760.3 834.1,759.8 832.3,760.7C830.5,761.6 824.8,765.8 823.0,767.5C821.2,769.2 820.1,772.3 818.9,773.7C817.7,775.1 814.8,776.2 814.3,777.8C813.8,779.4 816.2,784.2 815.2,786.0C814.2,787.8 807.9,789.7 806.5,791.2C805.1,792.7 804.1,795.5 804.4,797.4C804.7,799.3 807.2,803.4 808.6,805.6C810.0,807.8 813.7,811.7 814.7,813.9C815.7,816.1 816.3,820.1 816.4,822.0C816.5,823.9 815.0,826.2 815.2,828.3C815.4,830.4 816.5,835.3 817.8,837.6C819.1,839.9 823.3,843.2 825.0,845.8C826.7,848.4 828.7,853.2 830.2,857.0C831.7,860.8 834.9,872.4 836.4,874.0C837.9,875.6 840.0,869.9 841.5,869.0C843.0,868.1 845.8,868.2 847.7,867.4C849.6,866.6 854.4,863.2 855.9,862.7C857.4,862.2 858.9,862.1 859.0,863.3C859.1,864.5 856.6,869.4 856.4,871.6C856.2,873.8 856.6,877.9 857.6,879.8C858.6,881.7 862.2,883.8 864.2,886.0C866.2,888.2 869.9,893.7 872.4,896.3C874.9,898.9 879.7,903.1 882.7,905.3C885.7,907.5 892.0,910.6 895.0,912.5C898.0,914.4 903.7,918.0 905.4,919.7C907.1,921.4 908.1,923.3 907.8,924.9C907.5,926.5 904.0,930.1 903.3,932.0C902.6,933.9 903.7,937.1 902.9,939.3C902.1,941.5 898.7,946.5 897.0,948.6C895.3,950.7 890.7,953.3 889.9,955.0C889.1,956.7 890.1,959.7 891.0,961.0C891.9,962.3 895.1,964.2 897.0,965.0C898.9,965.8 902.9,965.7 905.4,966.7C907.9,967.7 913.0,971.3 915.7,972.3C918.4,973.3 924.0,973.3 926.0,974.3C928.0,975.3 930.1,978.2 931.0,979.5C931.9,980.8 932.7,983.4 933.0,984.0"/>
<path d="M934.0,815.5C932.9,814.9 927.6,811.1 926.0,810.8C924.4,810.5 923.0,811.4 922.3,812.9C921.6,814.4 921.8,820.1 920.8,822.0C919.8,823.9 916.1,825.8 914.6,827.3C913.1,828.8 909.6,831.3 909.5,833.4C909.4,835.5 912.8,840.4 913.6,842.7C914.4,845.0 915.3,848.8 915.3,851.0C915.3,853.2 913.7,856.6 913.6,859.0C913.5,861.4 915.3,867.1 914.6,869.3C913.9,871.5 908.4,874.2 908.5,875.4C908.6,876.6 914.7,877.5 915.7,878.5C916.7,879.5 916.8,881.7 915.7,882.7C914.6,883.7 908.2,884.6 907.8,885.7C907.4,886.8 912.8,889.7 912.6,890.9C912.4,892.1 906.7,893.6 906.4,895.0C906.1,896.4 910.4,899.5 910.5,901.2C910.6,902.9 907.0,906.2 907.4,907.4C907.8,908.6 912.9,909.5 913.6,910.5C914.3,911.5 913.4,913.9 912.6,914.6C911.8,915.3 909.7,916.3 907.4,916.0C905.1,915.7 896.7,913.0 895.0,912.5"/>
<path d="M934.0,788.0C933.3,788.5 929.7,790.9 929.0,792.0C928.3,793.1 928.3,795.4 929.0,796.4C929.7,797.4 933.3,799.1 934.0,799.5"/>
<path d="M934.0,995.0C933.5,995.4 930.7,995.7 930.0,998.0C929.3,1000.3 929.5,1009.9 929.0,1012.4C928.5,1014.9 927.0,1016.1 926.0,1016.5C925.0,1016.9 922.7,1014.7 921.8,1015.5C920.9,1016.3 919.6,1020.8 919.4,1022.7C919.2,1024.6 920.7,1028.3 920.2,1029.9C919.7,1031.5 916.2,1033.8 916.0,1035.0C915.8,1036.2 917.5,1037.9 918.8,1039.0C920.1,1040.1 924.0,1041.9 926.0,1043.3C928.0,1044.7 932.9,1048.7 934.0,1049.5"/>
<path d="M934.0,1014.5C933.5,1014.9 930.0,1016.9 930.0,1017.6C930.0,1018.3 933.5,1019.3 934.0,1019.6"/>
<path d="M911.5,480.0C911.8,479.3 912.6,475.7 913.6,475.0C914.6,474.3 918.1,474.3 918.8,475.0C919.5,475.7 918.8,479.3 918.8,480.0"/>

</g>
<g fill="none" stroke="#000" stroke-width="2.2" stroke-linejoin="round" stroke-linecap="round">
<path d="M418.4,431.4C416.4,432.1 406.7,436.1 403.6,437.0C400.5,437.9 397.8,438.0 395.3,438.2C392.8,438.4 386.6,438.3 385.0,438.6C383.4,438.9 382.8,440.0 383.0,440.7C383.2,441.4 386.6,442.1 386.7,443.7C386.8,445.3 384.8,450.1 384.0,453.0C383.2,455.9 381.4,462.1 380.9,465.4C380.4,468.7 379.8,474.9 379.9,477.7C380.0,480.5 380.9,483.7 381.3,486.5C381.7,489.3 382.5,496.5 383.0,498.8C383.5,501.1 383.4,502.8 385.0,504.0C386.6,505.2 392.6,506.9 395.3,508.0C398.0,509.1 403.2,511.2 405.6,512.2C408.0,513.2 412.3,514.2 413.5,515.7C414.7,517.2 414.0,521.7 414.3,523.6C414.6,525.5 415.6,527.8 415.5,529.7C415.4,531.6 414.3,535.7 413.9,538.0C413.5,540.3 412.4,545.3 412.4,547.2C412.4,549.1 412.9,551.2 413.9,552.0C414.9,552.8 418.1,553.1 420.0,553.4C421.9,553.7 426.5,553.5 428.3,554.0C430.1,554.5 432.2,556.1 433.4,557.5C434.6,558.9 436.6,562.6 437.6,564.7C438.6,566.8 440.4,570.7 441.0,573.0C441.6,575.3 442.3,579.6 442.3,582.3C442.3,585.0 440.7,591.6 441.0,593.6C441.3,595.6 443.6,596.3 444.8,597.3C446.0,598.3 448.9,599.1 449.9,600.8C450.9,602.5 451.6,607.8 452.6,610.0C453.6,612.2 456.0,615.2 457.1,617.3C458.2,619.4 460.0,623.7 460.8,625.5C461.6,627.3 462.8,628.6 462.9,630.7C463.0,632.8 462.4,638.3 461.9,641.0C461.4,643.7 459.7,648.8 459.2,651.3C458.7,653.8 458.8,657.1 458.2,659.5C457.6,661.9 456.0,667.9 455.0,669.4C454.0,670.9 453.5,670.4 451.0,670.4C448.5,670.4 440.1,669.5 436.5,669.4C432.9,669.3 426.9,669.4 424.2,669.4C421.5,669.4 418.6,669.6 415.9,669.4C413.2,669.2 408.0,668.2 403.6,668.0C399.2,667.8 387.7,668.0 383.0,668.0C378.3,668.0 371.3,667.5 368.6,667.7C365.9,667.9 365.1,669.5 362.4,669.8C359.7,670.1 352.1,670.1 348.0,670.2C343.9,670.3 337.0,670.4 331.5,670.4C326.0,670.4 310.5,670.0 306.8,670.2C303.1,670.4 304.7,672.0 303.7,671.8C302.7,671.6 300.6,670.3 299.6,668.8C298.6,667.3 297.6,662.2 296.5,660.5C295.4,658.8 292.5,657.4 291.3,656.4C290.1,655.4 288.7,653.3 287.2,652.7C285.7,652.1 282.0,651.9 280.0,651.7C278.0,651.5 274.3,651.9 272.2,651.3C270.1,650.7 265.8,648.1 263.9,647.5C262.0,646.9 259.6,647.0 257.7,646.7C255.8,646.4 251.4,645.8 249.5,645.0C247.6,644.2 245.0,641.8 243.3,641.0C241.6,640.2 238.6,638.8 237.1,638.9C235.6,639.0 232.3,640.6 232.0,641.4C231.7,642.2 233.5,644.0 235.0,645.0C236.5,646.0 241.6,648.0 243.3,648.8C245.0,649.6 247.3,650.3 247.8,651.3C248.3,652.3 247.3,655.0 247.4,656.4C247.5,657.8 248.9,660.5 248.5,661.5C248.1,662.5 246.4,663.3 244.3,663.6C242.2,663.9 236.0,663.4 233.0,663.6C230.0,663.8 223.8,665.4 221.7,665.3C219.6,665.2 218.4,663.9 217.6,662.6C216.8,661.3 215.9,657.7 215.5,655.4C215.1,653.1 215.0,647.7 214.5,645.0C214.0,642.3 212.8,636.7 212.0,634.8C211.2,632.9 209.6,631.4 208.3,630.7C207.0,630.0 203.4,630.0 202.0,629.6C200.6,629.2 199.1,628.1 198.0,627.6C196.9,627.1 195.1,625.7 193.9,626.0C192.7,626.3 190.4,627.9 188.7,629.6C187.0,631.3 183.8,636.2 181.5,638.5C179.2,640.8 173.7,644.5 171.2,647.0C168.7,649.5 165.0,655.9 163.0,657.4C161.0,658.9 156.8,657.4 156.4,658.5C156.0,659.6 159.2,663.1 159.9,665.7C160.6,668.3 161.2,674.4 162.0,678.0C162.8,681.6 164.8,689.3 166.0,692.4C167.2,695.5 170.1,699.2 170.8,701.6C171.5,704.0 170.2,709.1 171.2,710.5C172.2,711.9 177.0,711.1 178.4,712.0C179.8,712.9 180.9,715.5 181.5,717.0C182.1,718.5 183.3,722.2 183.2,723.3C183.1,724.4 180.8,724.3 180.5,725.3C180.2,726.3 181.4,729.6 181.0,731.0C180.6,732.4 178.1,734.4 177.4,735.6C176.7,736.8 176.9,738.3 175.8,739.7C174.7,741.1 170.9,744.5 169.2,745.9C167.5,747.3 164.8,749.8 163.0,750.4C161.2,751.0 157.7,750.8 155.8,750.6C153.9,750.4 151.1,749.0 148.6,749.0C146.1,749.0 138.9,749.9 137.2,750.4C135.5,750.9 135.8,751.8 135.8,753.0C135.8,754.2 136.7,757.8 137.2,759.3C137.7,760.8 139.2,762.6 139.3,764.4C139.4,766.2 138.9,770.4 138.3,772.7C137.7,775.0 135.2,779.8 134.6,782.0C134.0,784.2 134.2,787.1 133.7,789.0C133.2,790.9 131.4,794.7 131.0,796.4C130.6,798.1 130.7,800.1 131.0,801.5C131.3,802.9 133.0,804.9 133.1,806.7C133.2,808.5 131.8,813.1 132.1,815.0C132.4,816.9 133.7,819.2 135.2,821.0C136.7,822.8 141.9,826.5 143.4,828.3C144.9,830.1 145.6,832.2 146.1,834.5C146.6,836.8 146.6,843.1 147.5,845.8C148.4,848.5 151.0,852.4 152.7,855.0C154.4,857.6 158.9,863.1 159.9,865.4C160.9,867.7 160.4,870.7 160.3,872.6C160.2,874.5 159.5,876.8 158.9,880.0C158.3,883.2 156.0,892.7 155.6,896.5C155.2,900.3 155.6,904.4 156.0,908.8C156.4,913.2 159.0,924.5 158.9,929.4C158.8,934.3 155.7,941.5 155.6,945.9C155.5,950.3 157.3,959.4 158.0,962.4C158.7,965.4 159.4,967.8 160.9,968.6C162.4,969.4 166.7,966.9 169.2,968.6C171.7,970.3 176.5,977.7 179.5,981.0C182.5,984.3 188.9,991.8 191.9,993.3C194.9,994.8 199.3,990.1 202.0,992.0C204.7,993.9 208.8,1003.4 212.5,1007.7C216.2,1012.0 228.4,1020.9 229.8,1024.2C231.2,1027.5 224.8,1031.0 222.8,1032.5C220.8,1034.0 216.2,1034.1 214.5,1035.7C212.8,1037.3 211.2,1042.6 210.4,1044.8C209.6,1047.0 210.2,1050.7 208.3,1052.2C206.4,1053.7 197.6,1055.5 196.0,1056.0"/>
<path d="M636.0,432.0C636.0,441.2 636.1,489.5 636.0,500.9C635.9,512.3 635.9,513.6 635.5,517.4C635.1,521.2 634.2,526.4 632.9,529.7C631.6,533.0 627.5,538.7 625.6,542.0C623.7,545.3 620.0,551.1 618.4,554.4C616.8,557.7 614.5,563.8 613.7,566.8C612.9,569.8 614.3,575.1 612.3,576.7C610.3,578.3 602.3,578.1 598.9,578.8C595.5,579.5 589.0,580.9 586.5,581.6C584.0,582.3 580.9,583.2 579.9,584.3C578.9,585.4 578.9,588.1 578.9,589.5C578.9,590.9 579.4,593.7 579.9,594.6C580.4,595.5 582.4,593.9 582.8,596.0C583.2,598.1 582.8,607.3 583.0,610.0C583.2,612.7 583.3,614.7 584.4,616.2C585.5,617.7 590.2,619.2 591.2,621.4C592.2,623.6 592.2,630.1 591.7,632.7C591.2,635.3 588.3,638.7 587.5,640.9C586.7,643.1 586.3,647.0 586.0,649.2C585.7,651.4 585.4,655.3 585.5,657.4C585.6,659.5 587.0,662.4 586.9,664.6C586.8,666.8 585.7,671.6 584.9,673.9C584.1,676.2 582.2,680.8 580.7,682.0C579.2,683.2 576.0,683.3 574.0,682.8C572.0,682.3 568.4,679.6 565.9,678.0C563.4,676.4 558.1,672.2 555.6,670.8C553.1,669.4 549.2,667.8 547.4,667.3C545.6,666.8 543.6,668.2 542.2,667.3C540.8,666.4 538.5,661.8 537.0,660.5C535.5,659.2 532.7,658.2 530.9,657.8C529.1,657.4 525.4,656.8 523.7,657.4C522.0,658.0 520.0,661.7 518.5,662.6C517.0,663.5 514.9,663.6 512.4,664.0C509.9,664.4 502.6,664.6 500.0,665.5C497.4,666.4 495.3,670.0 493.2,670.8C491.1,671.6 485.7,671.7 483.9,671.4C482.1,671.1 480.0,670.1 479.4,668.8C478.8,667.5 478.9,663.7 479.4,661.5C479.9,659.3 481.9,655.0 482.9,652.3C483.9,649.6 485.8,643.7 487.0,641.0C488.2,638.3 491.3,633.4 491.7,631.7C492.1,630.0 491.6,629.0 489.7,628.6C487.8,628.2 481.3,628.7 477.7,629.0C474.1,629.3 464.9,630.5 462.9,630.7"/>

</g>
<g fill="none" stroke="#000" stroke-width="1.85" stroke-linejoin="round" stroke-linecap="round">
<path d="M61.0,334.5C61.4,334.6 63.1,335.4 64.1,335.6C65.1,335.8 68.2,336.1 69.3,336.6C70.4,337.1 72.6,339.8 73.4,339.7C74.2,339.6 75.7,336.7 76.5,335.6C77.3,334.5 79.5,331.8 80.6,330.5C81.7,329.2 84.5,325.6 85.7,324.3C86.9,323.0 90.1,319.4 90.9,319.1C91.7,318.8 92.3,320.7 92.5,322.0C92.7,323.3 92.7,330.5 93.0,330.5C93.3,330.5 94.7,323.5 95.0,322.0C95.3,320.5 95.5,317.6 96.0,317.5C96.5,317.4 98.5,319.6 99.1,321.2C99.7,322.8 100.6,329.9 101.2,331.5C101.8,333.1 103.7,334.7 104.3,334.6C104.9,334.5 105.2,331.1 106.3,330.5C107.4,329.9 112.0,329.9 113.6,329.8C115.2,329.7 118.5,328.9 119.7,329.4C120.9,329.9 123.8,332.6 124.3,334.0C124.8,335.4 123.9,339.7 124.3,341.8C124.7,343.9 127.2,349.7 128.0,352.0C128.8,354.3 130.2,359.6 131.0,361.4C131.8,363.2 134.1,366.3 135.2,367.5C136.3,368.7 139.0,370.9 140.3,371.7C141.6,372.5 145.1,374.0 146.5,374.7C147.9,375.4 151.0,377.1 152.7,377.8C154.4,378.5 159.3,380.3 161.0,380.5C162.7,380.7 166.2,379.8 167.1,379.3C168.0,378.8 168.4,376.4 168.8,376.4C169.2,376.4 169.4,378.7 170.2,379.3C171.0,379.9 173.7,380.9 175.3,381.3C176.9,381.7 182.4,382.7 183.6,383.0C184.8,383.3 184.6,383.4 185.6,384.0C186.6,384.6 190.1,387.2 191.8,388.1C193.5,389.0 198.1,391.2 200.0,391.8C201.9,392.4 206.7,392.8 208.3,392.9C209.9,393.0 211.7,393.0 213.4,392.5C215.1,392.0 220.6,390.0 222.7,388.8C224.8,387.6 229.1,383.3 231.0,382.0C232.9,380.7 237.8,379.0 239.2,377.8C240.6,376.6 242.8,372.8 243.3,371.7C243.8,370.6 243.2,369.5 243.7,368.6C244.2,367.7 246.5,365.2 247.4,364.4C248.3,363.6 250.6,361.8 251.6,361.8C252.6,361.8 254.6,363.6 255.7,364.4C256.8,365.2 259.4,367.9 260.8,369.0C262.2,370.1 266.4,372.9 268.0,373.7C269.6,374.5 272.8,375.2 274.2,375.8C275.6,376.4 278.4,378.1 280.0,378.5C281.6,378.9 286.3,379.1 288.2,378.9C290.1,378.7 294.6,377.7 296.5,377.2C298.4,376.7 302.8,375.1 304.7,374.7C306.6,374.3 311.2,374.1 313.0,373.7C314.8,373.3 318.6,372.7 320.2,371.7C321.8,370.7 325.0,366.9 326.3,365.5C327.6,364.1 330.3,360.3 331.5,359.3C332.7,358.3 335.4,357.6 336.6,357.2C337.8,356.8 341.1,355.7 341.8,355.8C342.5,355.9 343.0,357.7 342.8,358.3C342.6,358.9 339.3,360.6 339.7,361.0C340.1,361.4 344.6,360.9 345.9,361.4C347.2,361.9 350.3,364.3 351.0,365.5C351.7,366.7 351.4,370.7 352.0,371.7C352.6,372.7 355.0,374.2 356.2,374.3C357.4,374.4 360.7,373.5 362.4,372.7C364.1,371.9 368.8,368.7 370.6,367.5C372.4,366.3 376.1,362.7 377.8,362.8C379.5,362.9 383.2,367.3 385.0,368.6C386.8,369.9 391.6,372.5 393.3,373.7C395.0,374.9 398.1,377.8 399.5,378.9C400.9,380.0 404.5,382.0 405.6,383.0C406.7,384.0 408.2,386.1 408.7,387.1C409.2,388.1 410.2,390.5 409.8,391.2C409.4,391.9 406.2,391.9 405.6,392.9C405.0,393.9 404.9,397.5 405.0,399.5C405.1,401.5 406.0,407.5 406.7,409.8C407.4,412.1 409.7,416.9 410.8,419.0C411.9,421.1 415.0,426.5 415.9,427.9C416.8,429.3 417.4,430.3 418.4,431.4C419.4,432.5 422.4,435.8 424.2,437.0C426.0,438.2 431.9,440.9 433.7,441.3C435.5,441.7 438.0,440.1 439.3,440.2C440.6,440.3 443.2,442.3 444.9,442.5C446.6,442.7 452.1,442.0 453.9,442.0C455.7,442.0 458.9,442.3 460.7,442.9C462.5,443.5 468.0,446.7 469.7,447.0C471.4,447.3 474.5,446.6 475.3,445.8C476.1,445.0 475.7,440.7 476.4,439.8C477.1,438.9 480.2,437.6 480.9,438.4C481.6,439.2 481.7,447.3 482.0,447.0C482.3,446.7 482.9,437.5 483.6,436.2C484.3,434.9 487.2,433.9 488.1,435.7C489.0,437.5 490.3,449.1 491.0,451.5C491.7,453.9 493.5,455.8 494.4,456.4C495.3,457.0 498.2,457.4 498.9,457.0C499.6,456.6 499.5,453.0 500.0,452.6C500.5,452.2 502.4,452.9 502.9,453.7C503.4,454.5 503.8,458.8 504.5,459.3C505.2,459.8 507.6,458.3 509.0,458.2C510.4,458.1 514.9,458.7 516.9,458.7C518.9,458.7 523.7,458.3 525.8,457.8C527.9,457.3 532.8,455.8 534.8,454.8C536.8,453.8 541.3,450.4 542.7,449.2C544.1,448.0 546.6,444.7 547.2,444.7C547.8,444.7 547.6,449.2 547.9,449.2C548.2,449.2 549.5,445.4 550.1,444.3C550.7,443.2 552.5,441.0 552.8,439.8C553.1,438.6 552.3,434.3 552.8,433.9C553.3,433.5 556.0,435.8 557.3,436.2C558.6,436.6 563.0,436.3 564.0,437.0C565.0,437.7 565.4,441.9 565.8,442.0C566.2,442.1 566.0,438.2 567.4,437.5C568.8,436.8 576.2,435.1 577.5,436.2C578.8,437.2 578.4,446.3 578.7,446.5C579.0,446.7 578.6,438.9 579.8,438.0C581.0,437.1 587.4,438.1 588.8,438.4C590.2,438.7 590.8,440.9 592.1,440.7C593.4,440.5 598.0,437.5 600.0,437.0C602.0,436.5 607.2,436.1 609.0,436.2C610.8,436.3 613.9,437.6 615.7,437.5C617.5,437.4 623.1,436.2 624.7,435.7C626.3,435.2 627.9,433.4 629.2,433.0C630.5,432.6 634.2,432.3 636.0,432.0C637.8,431.7 642.3,431.0 644.2,430.5C646.1,430.0 650.6,428.0 652.4,427.3C654.2,426.6 658.6,425.7 659.6,424.8C660.6,423.9 660.2,419.8 660.7,419.6C661.2,419.4 662.7,422.3 663.7,422.7C664.7,423.1 667.6,423.0 668.9,422.7C670.2,422.4 675.0,420.9 675.0,420.2C675.0,419.5 670.3,417.8 668.9,417.0C667.5,416.2 663.8,414.6 662.7,413.5C661.6,412.4 660.1,408.6 659.6,407.3C659.1,406.0 659.2,403.0 658.6,402.0C658.0,401.0 655.6,399.7 654.5,399.0C653.4,398.3 650.0,396.7 649.3,396.0C648.6,395.3 647.8,393.0 648.3,392.9C648.8,392.8 652.0,394.9 653.4,394.9C654.8,394.9 659.3,393.5 660.7,392.9C662.1,392.3 665.0,390.6 665.8,389.8C666.6,389.0 666.5,386.7 667.2,386.0C667.9,385.3 671.2,384.4 672.0,383.6C672.8,382.8 674.0,380.6 674.0,379.5C674.0,378.4 672.8,375.1 672.0,374.3C671.2,373.5 667.5,372.9 666.8,372.3C666.1,371.7 666.5,369.0 665.8,368.8C665.1,368.6 661.8,369.6 660.7,370.2C659.6,370.8 657.4,373.6 656.5,374.3C655.6,375.0 653.8,376.8 653.4,376.4C653.0,376.0 653.5,372.8 653.4,371.2C653.3,369.6 652.8,364.6 652.4,363.0C652.0,361.4 650.0,358.7 650.0,357.8C650.0,356.9 651.5,354.7 652.4,355.2C653.3,355.7 657.4,361.8 657.6,362.0C657.8,362.2 654.4,357.7 654.5,356.8C654.6,355.9 657.4,354.8 658.6,354.3C659.8,353.8 663.7,353.6 664.8,352.7C665.9,351.8 667.2,348.4 667.9,346.5C668.6,344.6 670.3,338.1 671.0,336.2C671.7,334.3 673.5,331.7 674.0,330.0C674.5,328.3 675.1,324.0 675.0,321.8C674.9,319.6 673.7,313.7 673.0,311.5C672.3,309.3 670.0,304.8 668.9,303.3C667.8,301.8 665.0,299.5 663.7,299.0C662.4,298.5 659.0,298.7 657.6,299.0C656.2,299.3 652.1,301.4 651.4,301.2C650.7,301.0 650.8,297.8 651.4,297.0C652.0,296.2 655.1,294.7 656.5,294.0C657.9,293.3 662.7,292.2 663.7,290.9C664.7,289.6 663.9,284.0 664.8,282.7C665.7,281.4 669.0,280.3 671.0,279.6C673.0,278.9 680.1,276.6 682.3,276.5C684.5,276.4 688.2,278.0 689.5,278.5C690.8,279.0 691.7,279.8 693.6,280.6C695.5,281.4 702.9,284.4 706.0,285.7C709.1,287.0 717.2,291.0 720.0,292.0C722.8,293.0 727.9,293.6 730.3,294.0C732.7,294.4 738.7,294.8 740.6,295.0C742.5,295.2 745.6,295.5 746.8,296.0C748.0,296.5 749.7,297.7 750.9,299.0C752.1,300.3 755.3,305.2 757.0,307.4C758.7,309.6 763.1,315.3 765.3,317.7C767.5,320.1 773.2,326.0 775.6,328.0C778.0,330.0 783.3,333.3 785.9,334.6C788.5,335.9 795.4,338.5 798.3,339.3C801.2,340.1 808.0,341.1 810.6,341.4C813.2,341.7 818.5,342.1 820.9,341.8C823.3,341.5 829.2,339.5 831.2,338.7C833.2,337.9 837.5,335.9 838.4,335.2C839.3,334.5 837.0,333.4 838.8,332.7C840.6,332.0 850.2,330.4 853.9,329.6C857.6,328.8 866.3,327.1 870.4,325.9C874.5,324.7 884.8,320.9 888.9,319.7C893.0,318.5 902.0,316.5 905.4,316.0C908.8,315.5 915.5,315.2 917.7,315.2C919.9,315.2 922.9,316.2 923.9,316.2C924.9,316.2 925.1,315.2 926.0,315.2C926.9,315.2 930.8,316.0 932.0,316.2C933.2,316.4 935.5,316.9 936.0,317.0"/>

</g>
<g fill="none" stroke="#000" stroke-width="1.6" stroke-linejoin="round">
<path d="M240.1,314 239.8,315.5 238.9,316.5 237.9,316.5 237,315.5 236.7,314 237,312.5 237.9,311.5 238.9,311.5 239.8,312.5Z"/>
<path d="M296.3,289.1 297.5,291.3 297.7,293 296.9,293.6 295.4,292.8 293.7,290.9 292.5,288.7 292.3,287 293.1,286.4 294.6,287.2Z"/>
<path d="M305.4,297.1 304.6,297.9 303.2,298.1 301.7,297.5 300.7,296.5 300.6,295.3 301.4,294.5 302.8,294.3 304.3,294.9 305.3,295.9Z"/>
<path d="M338.1,302.8 337.4,303.7 335.9,304 334.2,303.7 332.9,302.9 332.5,301.8 333.2,300.9 334.7,300.6 336.4,300.9 337.7,301.7Z"/>
<path d="M392.8,329 392.2,331.1 390.6,332.4 388.6,332.4 387,331.1 386.4,329 387,326.9 388.6,325.6 390.6,325.6 392.2,326.9Z"/>
<path d="M405.8,332.4 404.7,333.7 402.7,334.2 400.6,333.6 399.1,332.2 398.8,330.6 399.9,329.3 401.9,328.8 404,329.4 405.5,330.8Z"/>
<path d="M525.6,315.3 524.6,316.5 523,316.9 521.3,316.3 520.3,315 520.4,313.3 521.4,312.1 523,311.7 524.7,312.3 525.7,313.6Z"/>
<path d="M271.4,195.6 270.4,196.5 268.5,196.6 266.4,196.1 264.8,195 264.4,193.8 265.4,192.9 267.3,192.8 269.4,193.3 271,194.4Z"/>
<path d="M202,169.8 209.6,170.8 216.8,171.8 221,174.3 229.1,177.8 228.7,179 221,176.4 214.7,174.3 208.5,172.8 202.4,171.2Z"/>
<path d="M317.5,231 321.8,226.8 330,223.7 335.8,223.7 332,225.8 324,229 318.7,232Z"/>

</g>
<g fill="#000"><circle cx="272.8" cy="150" r="1.9"/><circle cx="293.4" cy="143.8" r="1.9"/><circle cx="308.4" cy="225.2" r="2.1"/><circle cx="312.6" cy="226.8" r="1.9"/><circle cx="306.8" cy="232" r="2.1"/><circle cx="467.6" cy="355.6" r="2.3"/><circle cx="426.7" cy="381" r="2.1"/><circle cx="427.5" cy="386.5" r="1.9"/><circle cx="437.4" cy="383" r="2.0"/><circle cx="525.3" cy="337.9" r="1.9"/><path d="M234.9,178.4L245.6,179.4" stroke="#000" stroke-width="3" stroke-linecap="round"/></g>
<text x="933.8" y="1052.8" font-size="10.4" text-anchor="end">©Sub Bidang Prediksi Cuaca BMKG, 2026</text>
</g>
<rect x="62.5" y="132.5" width="871" height="923.7" fill="none" stroke="#000" stroke-width="3"/>
<!-- axis labels -->
<text x="53" y="356.8" font-size="16.9" text-anchor="end">6°S</text>
<text x="661.7" y="1079.3" font-size="16.7" text-anchor="middle">107°E</text>
<text x="62" y="1101" font-size="17.4">Model: IFS 0.125</text>
<text x="934.3" y="1101" font-size="17.4" text-anchor="end">Sumber: CIPS BMKG</text>
<!-- colorbar -->
<g>
<rect x="971" y="225" width="19" height="34" fill="#ffffff"/>
<rect x="971" y="258.3" width="19" height="96" fill="#b4f8d0"/>
<rect x="971" y="354.3" width="19" height="96" fill="#64ee78"/>
<rect x="971" y="450.3" width="19" height="96" fill="#dcdcfa"/>
<rect x="971" y="546.3" width="19" height="96" fill="#b4b4fa"/>
<rect x="971" y="642.3" width="19" height="96" fill="#8282fa"/>
<rect x="971" y="738.3" width="19" height="96" fill="#e682e6"/>
<rect x="971" y="834.3" width="19" height="96" fill="#c85ac8"/>
<rect x="971" y="930.3" width="19" height="34" fill="#962d96"/>
<rect x="970.5" y="224.6" width="19" height="739.7" fill="none" stroke="#000" stroke-width="2.8"/>
<g stroke="#000" stroke-width="2.8"><path d="M990.5,258.3H1001.7"/><path d="M991,354.3H1001.7"/><path d="M991,450.3H1001.7"/><path d="M991,546.3H1001.7"/><path d="M991,642.3H1001.7"/><path d="M991,738.3H1001.7"/><path d="M991,834.3H1001.7"/><path d="M991,930.3H1001.7"/></g>
<g font-size="16.7">
<text x="1014.3" y="264.9">0.0</text>
<text x="1014.3" y="360.9">-1.0</text>
<text x="1014.3" y="456.9">-2.0</text>
<text x="1014.3" y="552.9">-3.0</text>
<text x="1014.3" y="648.9">-4.0</text>
<text x="1014.3" y="744.9">-5.0</text>
<text x="1014.3" y="840.9">-6.0</text>
<text x="1014.3" y="936.9">-7.0</text>
</g>
</g>
</svg>
</body></html>
